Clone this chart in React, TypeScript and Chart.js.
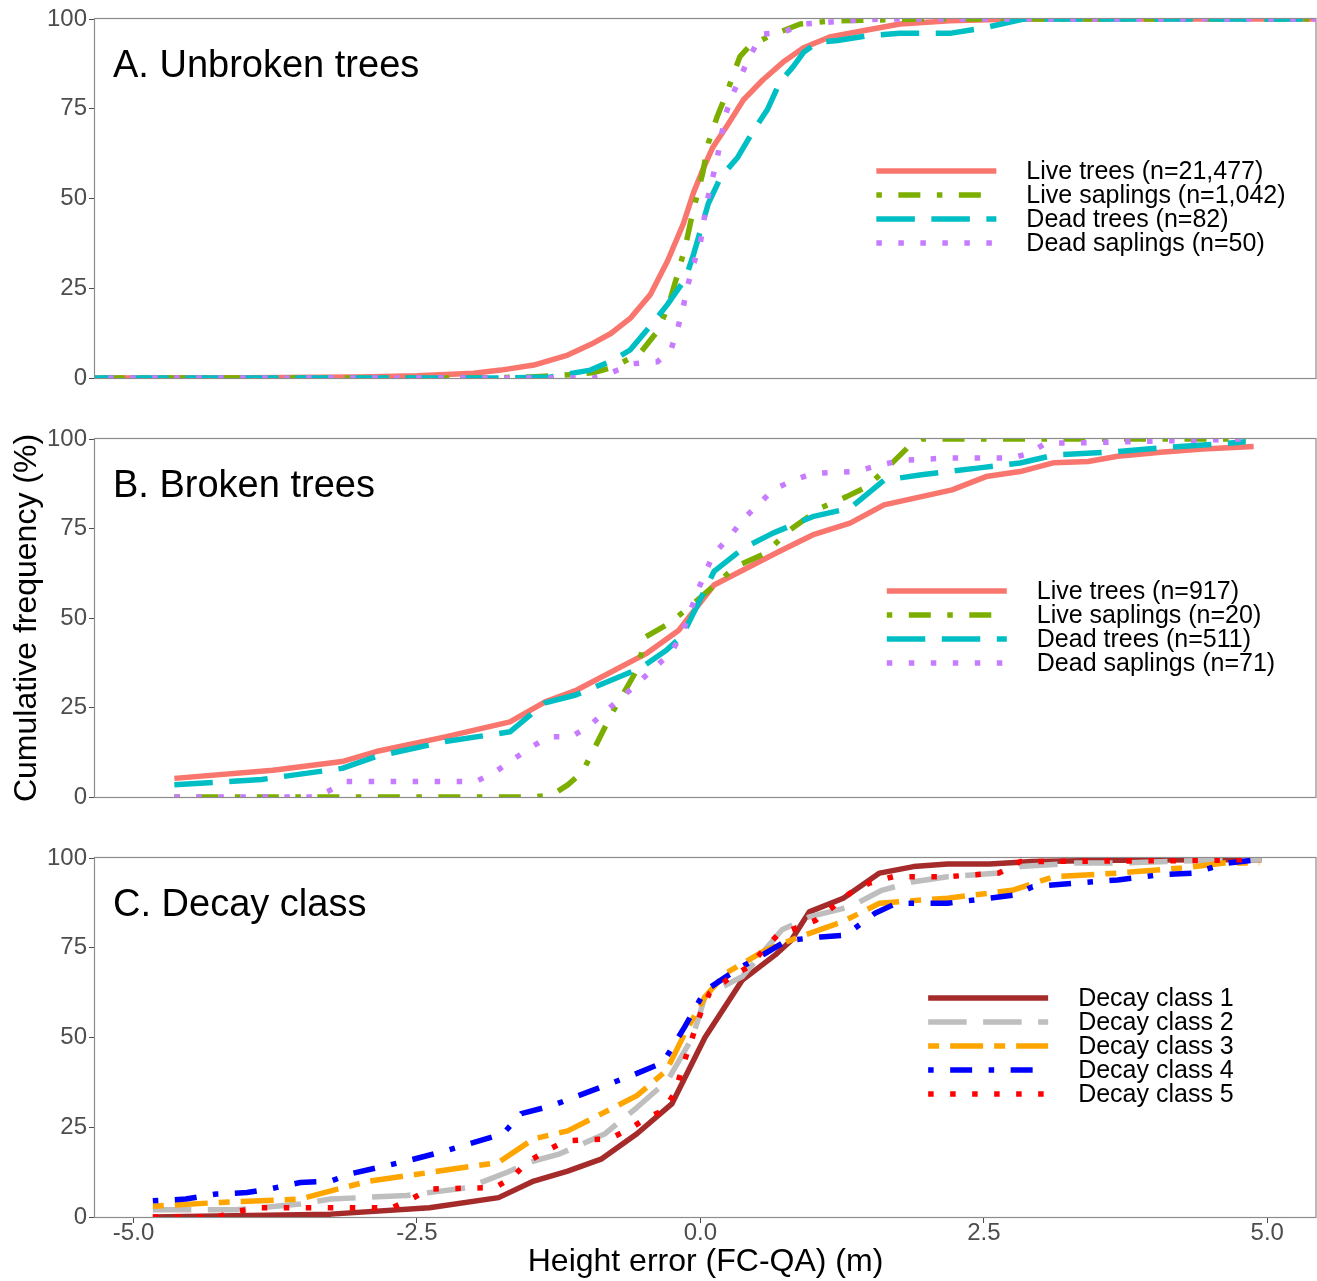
import React, { useEffect, useRef } from "react";
import { Chart, registerables } from "chart.js";

Chart.register(...registerables);

const FONT = '"Liberation Sans", Arial, Helvetica, sans-serif';

// ---------- axis ticks ----------
const xTickValues = [-5, -2.5, 0, 2.5, 5];
const xTickLabels = ["-5.0", "-2.5", "0.0", "2.5", "5.0"];
const yTickValues = [0, 25, 50, 75, 100];
const yTickLabels = ["0", "25", "50", "75", "100"];
const X_MIN = -5.34;
const X_MAX = 5.43;

// ---------- Panel A: Unbroken trees ----------
const aTitle = "A. Unbroken trees";
const aLabels = ["Live trees (n=21,477)", "Live saplings (n=1,042)", "Dead trees (n=82)", "Dead saplings (n=50)"];
const aLiveTreesX = [-6, -4.0, -3.0, -2.5, -2.0, -1.76, -1.47, -1.17, -0.97, -0.79, -0.62, -0.44, -0.29, -0.15, -0.06, 0.03, 0.11, 0.24, 0.38, 0.55, 0.73, 0.91, 1.14, 1.41, 1.76, 2.2, 2.8, 6];
const aLiveTreesY = [0, 0.1, 0.3, 0.6, 1.3, 2.2, 3.6, 6.4, 9.3, 12.4, 16.6, 23.3, 32.6, 43, 51.7, 58.7, 64.3, 70.5, 77.5, 83, 88, 92, 95, 96.6, 98.6, 99.5, 100, 100];
const aLiveSaplingsX = [-6, -2.0, -1.5, -1.2, -0.94, -0.77, -0.53, -0.38, -0.29, -0.2, -0.13, -0.07, 0.02, 0.07, 0.15, 0.24, 0.29, 0.35, 0.42, 0.59, 0.88, 1.17, 2.0, 6];
const aLiveSaplingsY = [0, 0, 0.3, 0.8, 1.5, 3, 7, 13, 19.4, 29, 37, 45.8, 57, 65.4, 73, 80, 84.6, 89.6, 92, 95, 98.6, 99.5, 100, 100];
const aDeadTreesX = [-6, -1.8, -1.32, -0.97, -0.77, -0.62, -0.41, -0.29, -0.13, -0.06, 0, 0.07, 0.18, 0.33, 0.47, 0.59, 0.7, 0.82, 0.91, 1.03, 1.21, 1.47, 1.76, 2.2, 2.5, 2.85, 6];
const aDeadTreesY = [0, 0, 0.3, 2.2, 5, 7.8, 15.7, 20.5, 27.8, 34.5, 41, 48.6, 56, 61.5, 69, 74.7, 82.3, 86.8, 90.7, 93.5, 94, 95.3, 96, 96, 97.5, 100, 100];
const aDeadSaplingsX = [-6, -0.94, -0.77, -0.59, -0.38, -0.26, -0.2, -0.15, -0.11, -0.06, 0, 0.03, 0.06, 0.11, 0.15, 0.19, 0.22, 0.29, 0.37, 0.44, 0.55, 0.73, 0.91, 1.08, 1.29, 1.6, 6];
const aDeadSaplingsY = [0, 0, 1.7, 4, 4.5, 7.8, 13.8, 20, 26, 31.7, 37.7, 43.8, 49.4, 56, 61.5, 68.3, 73.3, 79.4, 85, 90, 95.8, 96.3, 98.6, 99, 99.5, 100, 100];

// ---------- Panel B: Broken trees ----------
const bTitle = "B. Broken trees";
const bLabels = ["Live trees (n=917)", "Live saplings (n=20)", "Dead trees (n=511)", "Dead saplings (n=71)"];
const bLiveTreesX = [-4.64, -3.77, -3.16, -2.86, -2.25, -1.68, -1.37, -1.09, -0.47, -0.19, 0.12, 0.69, 0.99, 1.32, 1.62, 2.22, 2.52, 2.82, 3.12, 3.42, 3.68, 4.06, 4.43, 4.88];
const bLiveTreesY = [5.2, 7.5, 9.9, 12.7, 16.8, 21, 26.6, 29.9, 40.2, 46.6, 59.2, 68.5, 73.2, 76.5, 81.6, 85.8, 89.5, 90.9, 93.4, 93.7, 95.2, 96.3, 97.2, 97.9];
const bLiveSaplingsX = [-4.64, -1.48, -1.31, -1.17, -1.04, -0.77, -0.67, -0.56, -0.48, -0.27, -0.13, 0.01, 0.31, 0.57, 0.79, 1.06, 1.29, 1.47, 1.65, 1.85, 1.95, 4.81];
const bLiveSaplingsY = [0, 0, 0.5, 3.4, 7, 24, 29.4, 35.5, 44.8, 48.6, 52.2, 56, 64.3, 68, 74.6, 80.7, 83.9, 86.7, 92, 98.3, 100, 100];
const bDeadTreesX = [-4.64, -3.87, -3.16, -2.86, -2.25, -1.68, -1.37, -1.1, -0.53, -0.3, -0.16, 0.12, 0.38, 0.64, 0.99, 1.32, 1.62, 1.95, 2.48, 2.82, 3.12, 3.68, 4.06, 4.43, 4.81];
const bDeadTreesY = [3.4, 4.9, 8, 11.3, 15.5, 18.2, 26.3, 28.5, 36, 41, 45, 63, 69.5, 73.7, 78.3, 80.7, 88.5, 90, 92, 93.3, 95.5, 96.5, 97.5, 98.3, 99.2];
const bDeadSaplingsX = [-4.64, -3.4, -3.29, -3.13, -1.98, -1.81, -1.66, -1.49, -1.34, -1.14, -0.99, -0.84, -0.7, -0.55, -0.41, -0.26, -0.16, -0.03, 0.04, 0.12, 0.26, 0.37, 0.51, 0.64, 0.82, 1.0, 1.37, 1.58, 1.77, 2.18, 2.75, 2.9, 3.05, 3.31, 4.81];
const bDeadSaplingsY = [0, 0, 1.5, 4.3, 4.3, 7, 10.3, 14, 16.8, 16.8, 19.6, 23.8, 27.7, 31.8, 36, 40.2, 45.8, 57, 62.6, 68, 72.7, 77.4, 81.6, 85.8, 88.5, 90.4, 90.9, 92.7, 94, 94.7, 94.7, 96, 98.9, 98.9, 100];

// ---------- Panel C: Decay class ----------
const cTitle = "C. Decay class";
const cLabels = ["Decay class 1", "Decay class 2", "Decay class 3", "Decay class 4", "Decay class 5"];
const cDecay1X = [-4.83, -3.26, -2.39, -1.78, -1.47, -1.17, -0.87, -0.56, -0.25, 0.04, 0.37, 0.66, 0.8, 0.96, 1.26, 1.58, 1.88, 2.18, 2.55, 2.93, 3.68, 4.43, 4.95];
const cDecay1Y = [0, 0.8, 2.6, 5.4, 10, 12.8, 16.2, 23.2, 31.6, 50, 66, 73, 77, 85, 88.8, 95.8, 97.6, 98.3, 98.3, 99, 99.4, 99.5, 99.5];
const cDecay2X = [-4.83, -4.1, -3.53, -3.26, -2.59, -2.05, -1.71, -1.47, -1.24, -0.84, -0.56, -0.29, -0.07, 0.04, 0.19, 0.37, 0.59, 0.72, 0.96, 1.32, 1.6, 1.88, 2.18, 2.63, 2.82, 3.31, 3.68, 4.43, 4.95];
const cDecay2Y = [2, 2, 3.6, 5, 6, 8.2, 12.4, 15.6, 17.6, 23.2, 30.5, 38, 50, 61.3, 64, 67, 75.2, 80, 83.6, 86.4, 91, 93.4, 94.8, 95.8, 97.6, 98.6, 98.6, 99.3, 99.6];
const cDecay3X = [-4.83, -4.27, -3.53, -3.26, -2.92, -2.39, -1.78, -1.47, -1.17, -0.87, -0.56, -0.3, -0.14, 0.04, 0.22, 0.57, 0.87, 1.25, 1.58, 1.95, 2.18, 2.75, 3.12, 3.68, 4.24, 4.62, 4.93];
const cDecay3Y = [3, 4, 5, 7.3, 10, 12.4, 15.2, 21.8, 24, 28.8, 33.8, 40.8, 51, 61.3, 67.8, 74.3, 78, 82.2, 87.4, 88.3, 88.8, 91, 94.8, 95.8, 97.2, 98.6, 98.6];
const cDecay4X = [-4.83, -4.54, -4.27, -4.0, -3.8, -3.53, -3.26, -3.09, -2.59, -2.25, -1.74, -1.58, -1.31, -0.84, -0.56, -0.33, -0.14, 0.04, 0.31, 0.57, 0.76, 1.06, 1.28, 1.54, 1.73, 2.18, 2.78, 2.93, 3.31, 3.68, 4.05, 4.35, 4.65, 4.88];
const cDecay4Y = [4.5, 5, 6.4, 6.8, 7.8, 9.6, 10, 12, 15.6, 18.4, 23.2, 28.8, 31, 36.6, 40, 43, 52.9, 63, 68.7, 73.4, 77, 78, 78.5, 84.6, 87.4, 87.4, 89.7, 92, 93, 93.9, 95.3, 95.8, 98.6, 99.4];
const cDecay5X = [-4.83, -4.27, -4.07, -3.87, -2.72, -2.55, -2.39, -1.81, -1.66, -1.53, -1.36, -1.19, -0.8, -0.62, -0.47, -0.33, -0.23, -0.11, 0.01, 0.08, 0.27, 0.42, 0.53, 0.68, 0.87, 1.02, 1.17, 1.32, 1.49, 1.7, 2.18, 2.63, 2.82, 4.43, 4.92];
const cDecay5Y = [0, 0, 1.7, 2.6, 2.6, 5, 7.8, 8.2, 11, 15.2, 18.4, 21.2, 21.8, 24.6, 27.7, 29.6, 34.4, 46.4, 57.5, 62.3, 66.9, 69.6, 73.4, 78.5, 80.8, 82.7, 86.4, 90.2, 93, 94.8, 94.8, 95.8, 99, 99.3, 99.6];

// ---------- styles ----------
const LW = 5.5;
const SOLID: number[] = [];
const DOTDASH = [LW, 3 * LW, 4 * LW, 3 * LW];
const LONGDASH = [7 * LW, 3 * LW];
const DOTTED = [LW, 3 * LW];
const TWODASH = [2 * LW, 2 * LW, 6 * LW, 2 * LW];

type Series = { label: string; x: number[]; y: number[]; color: string; dash: number[] };

const panelA: Series[] = [
  { label: aLabels[0], x: aLiveTreesX, y: aLiveTreesY, color: "#F8766D", dash: SOLID },
  { label: aLabels[1], x: aLiveSaplingsX, y: aLiveSaplingsY, color: "#7CAE00", dash: DOTDASH },
  { label: aLabels[2], x: aDeadTreesX, y: aDeadTreesY, color: "#00BFC4", dash: LONGDASH },
  { label: aLabels[3], x: aDeadSaplingsX, y: aDeadSaplingsY, color: "#C77CFF", dash: DOTTED },
];
const panelB: Series[] = [
  { label: bLabels[0], x: bLiveTreesX, y: bLiveTreesY, color: "#F8766D", dash: SOLID },
  { label: bLabels[1], x: bLiveSaplingsX, y: bLiveSaplingsY, color: "#7CAE00", dash: DOTDASH },
  { label: bLabels[2], x: bDeadTreesX, y: bDeadTreesY, color: "#00BFC4", dash: LONGDASH },
  { label: bLabels[3], x: bDeadSaplingsX, y: bDeadSaplingsY, color: "#C77CFF", dash: DOTTED },
];
const panelC: Series[] = [
  { label: cLabels[0], x: cDecay1X, y: cDecay1Y, color: "#A52A2A", dash: SOLID },
  { label: cLabels[1], x: cDecay2X, y: cDecay2Y, color: "#BEBEBE", dash: LONGDASH },
  { label: cLabels[2], x: cDecay3X, y: cDecay3Y, color: "#FFA500", dash: TWODASH },
  { label: cLabels[3], x: cDecay4X, y: cDecay4Y, color: "#0000FF", dash: DOTDASH },
  { label: cLabels[4], x: cDecay5X, y: cDecay5Y, color: "#FF0000", dash: DOTTED },
];

type PanelSpec = {
  key: string;
  title: string;
  series: Series[];
  top: number;
  height: number;
  padTop: number;
  padBottom: number;
  showX: boolean;
  xAxisH: number;
  yTitle: string | null;
};

const WIDTH = 1317;
const Y_AXIS_W = 95;
const TICK_COLOR = "#4D4D4D";
const BOX_COLOR = "#8C8C8C";

const panels: PanelSpec[] = [
  { key: "A", title: aTitle, series: panelA, top: 0, height: 400, padTop: 19, padBottom: 22, showX: false, xAxisH: 0, yTitle: null },
  { key: "B", title: bTitle, series: panelB, top: 405, height: 410, padTop: 34, padBottom: 18, showX: false, xAxisH: 0, yTitle: "Cumulative frequency (%)" },
  { key: "C", title: cTitle, series: panelC, top: 838, height: 443, padTop: 20, padBottom: 0, showX: true, xAxisH: 64, yTitle: null },
];

function makeDecor(title: string) {
  return {
    id: "panelDecor",
    beforeDatasetsDraw(chart: any) {
      const { ctx, chartArea } = chart;
      const { left, top, right, bottom } = chartArea;
      ctx.save();
      ctx.strokeStyle = BOX_COLOR;
      ctx.lineWidth = 1.2;
      ctx.strokeRect(left - 0.5, top - 0.5, right - left + 0.5, bottom - top + 1);
      ctx.restore();
    },
    afterDraw(chart: any) {
      const { ctx, chartArea } = chart;
      const { left, top, right } = chartArea;
      ctx.save();
      // panel title
      ctx.fillStyle = "#000000";
      ctx.font = `38px ${FONT}`;
      ctx.textBaseline = "alphabetic";
      ctx.textAlign = "left";
      ctx.fillText(title, left + 18, top + 58);
      // legend
      const ds = chart.data.datasets;
      ctx.font = `25px ${FONT}`;
      let maxW = 0;
      ds.forEach((d: any) => {
        maxW = Math.max(maxW, ctx.measureText(d.label).width);
      });
      const keyW = 120;
      const gap = 30;
      const total = keyW + gap + maxW;
      const cx = left + 0.8075 * (right - left);
      const lx = cx - total / 2;
      const rowH = 24;
      const cy = top + 188;
      const y0 = cy - ((ds.length - 1) * rowH) / 2;
      ds.forEach((d: any, i: number) => {
        const y = y0 + i * rowH;
        ctx.beginPath();
        ctx.strokeStyle = d.borderColor;
        ctx.lineWidth = d.borderWidth;
        ctx.lineCap = "butt";
        ctx.setLineDash(d.borderDash || []);
        ctx.moveTo(lx, y);
        ctx.lineTo(lx + keyW, y);
        ctx.stroke();
        ctx.setLineDash([]);
        ctx.fillStyle = "#000000";
        ctx.textBaseline = "middle";
        ctx.fillText(d.label, lx + keyW + gap, y + 1);
      });
      ctx.restore();
    },
  };
}

function makeConfig(p: PanelSpec): any {
  const n = p.series.length;
  return {
    type: "line",
    data: {
      datasets: p.series.map((s, i) => ({
        label: s.label,
        data: s.x.map((xv, j) => ({ x: xv, y: s.y[j] })),
        borderColor: s.color,
        backgroundColor: s.color,
        borderWidth: LW,
        borderDash: s.dash,
        borderCapStyle: "butt",
        borderJoinStyle: "round",
        pointRadius: 0,
        pointHoverRadius: 0,
        tension: 0,
        fill: false,
        order: n - i,
      })),
    },
    options: {
      responsive: false,
      maintainAspectRatio: false,
      animation: false,
      events: [],
      devicePixelRatio: 1,
      layout: { padding: { top: p.padTop, bottom: p.padBottom, left: 0, right: 1 } },
      plugins: {
        legend: { display: false },
        tooltip: { enabled: false },
        title: { display: false },
      },
      scales: {
        x: {
          type: "linear",
          min: X_MIN,
          max: X_MAX,
          display: p.showX,
          afterBuildTicks: (scale: any) => {
            scale.ticks = xTickValues.map((v) => ({ value: v }));
          },
          afterFit: (scale: any) => {
            scale.paddingLeft = 0;
            scale.paddingRight = 0;
            if (p.showX) scale.height = p.xAxisH;
          },
          ticks: {
            autoSkip: false,
            maxRotation: 0,
            minRotation: 0,
            padding: -4,
            color: TICK_COLOR,
            font: { family: FONT, size: 24, lineHeight: 1.2 },
            callback: (v: number) => {
              const k = xTickValues.indexOf(v);
              return k >= 0 ? xTickLabels[k] : "";
            },
          },
          grid: { display: true, drawOnChartArea: false, drawTicks: true, tickLength: 6, color: TICK_COLOR, lineWidth: 1 },
          border: { display: false },
          title: {
            display: p.showX,
            text: "Height error (FC-QA) (m)",
            color: "#000000",
            font: { family: FONT, size: 32, lineHeight: 1.2 },
            padding: 0,
          },
        },
        y: {
          type: "linear",
          min: 0,
          max: 100,
          afterBuildTicks: (scale: any) => {
            scale.ticks = yTickValues.map((v) => ({ value: v }));
          },
          afterFit: (scale: any) => {
            scale.width = Y_AXIS_W;
            scale.paddingTop = 0;
            scale.paddingBottom = 0;
          },
          ticks: {
            autoSkip: false,
            padding: 2,
            color: TICK_COLOR,
            font: { family: FONT, size: 24, lineHeight: 1.2 },
            callback: (v: number) => {
              const k = yTickValues.indexOf(v);
              return k >= 0 ? yTickLabels[k] : "";
            },
          },
          grid: { display: true, drawOnChartArea: false, drawTicks: true, tickLength: 6, color: TICK_COLOR, lineWidth: 1 },
          border: { display: false },
          title: {
            display: !!p.yTitle,
            text: p.yTitle || "",
            color: "#000000",
            font: { family: FONT, size: 32, lineHeight: 1.2 },
            padding: { top: 8, bottom: 0 },
          },
        },
      },
    },
    plugins: [makeDecor(p.title)],
  };
}

function Panel({ spec }: { spec: PanelSpec }) {
  const ref = useRef<HTMLCanvasElement | null>(null);
  useEffect(() => {
    if (!ref.current) return;
    const chart = new Chart(ref.current, makeConfig(spec));
    return () => chart.destroy();
  }, [spec]);
  return (
    <canvas
      ref={ref}
      width={WIDTH}
      height={spec.height}
      style={{ position: "absolute", left: 0, top: spec.top, width: WIDTH, height: spec.height, display: "block" }}
    />
  );
}

export default function App() {
  return (
    <div
      style={{
        position: "absolute",
        left: 0,
        top: 0,
        width: WIDTH,
        height: 1281,
        background: "#ffffff",
        overflow: "hidden",
      }}
    >
      {panels.map((p) => (
        <Panel key={p.key} spec={p} />
      ))}
    </div>
  );
}
